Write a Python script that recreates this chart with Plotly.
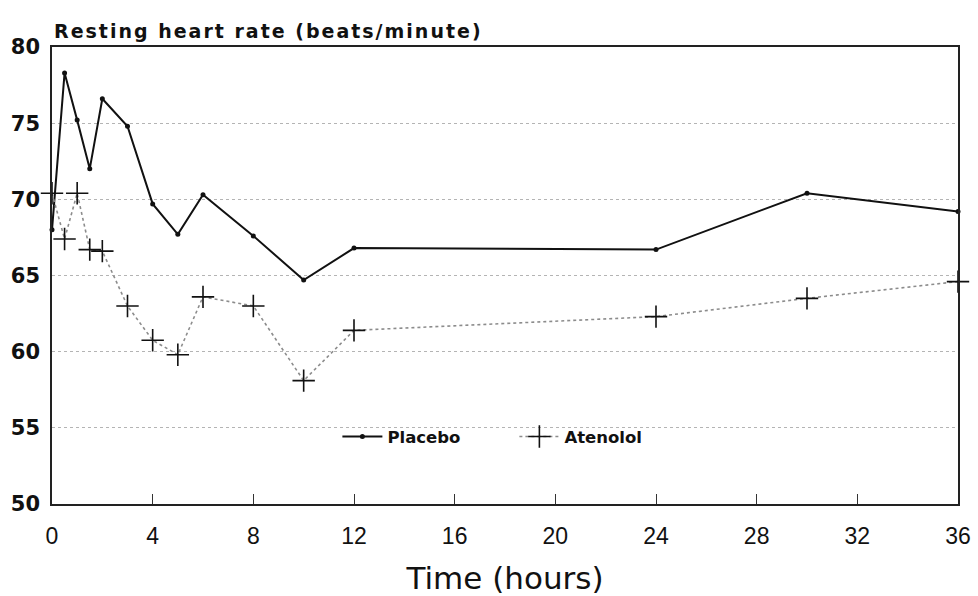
import plotly.graph_objects as go

# Measurement times (hours after dosing)
hours = [0, 0.5, 1, 1.5, 2, 3, 4, 5, 6, 8, 10, 12, 24, 30, 36]

# Mean resting heart rate (beats/minute)
placebo = [68.0, 78.3, 75.2, 72.0, 76.6, 74.8, 69.7, 67.7, 70.3, 67.6, 64.7, 66.8, 66.7, 70.4, 69.2]
atenolol = [70.4, 67.4, 70.4, 66.7, 66.6, 63.0, 60.75, 59.8, 63.6, 63.0, 58.1, 61.4, 62.3, 63.5, 64.6]

x_ticks = [0, 4, 8, 12, 16, 20, 24, 28, 32, 36]
y_ticks = [50, 55, 60, 65, 70, 75, 80]

font_wide = "DejaVu Sans, Verdana, sans-serif"
font_plain = "Liberation Sans, Arial, sans-serif"

fig = go.Figure()

fig.add_trace(go.Scatter(
    x=hours, y=placebo, name="Placebo", mode="lines+markers",
    line=dict(color="#111111", width=2),
    marker=dict(color="#111111", size=5, symbol="circle"),
    cliponaxis=False,
))

fig.add_trace(go.Scatter(
    x=hours, y=atenolol, name="Atenolol", mode="lines+markers",
    line=dict(color="#8c8c8c", width=1.6, dash="dot"),
    marker=dict(color="#111111", size=16, symbol="cross-thin",
                line=dict(color="#111111", width=1.6)),
    cliponaxis=False,
))

fig.update_layout(
    width=978, height=596,
    margin=dict(l=52, r=20, t=47, b=92),
    paper_bgcolor="white", plot_bgcolor="white",
    font=dict(family=font_plain, color="#111111"),
    showlegend=True,
    legend=dict(
        orientation="h", x=0.315, y=0.147, xanchor="left", yanchor="middle",
        bgcolor="rgba(0,0,0,0)",
        font=dict(size=16.5, family=font_wide, weight="bold", color="#111111"),
        itemwidth=40, entrywidth=122,
    ),
    xaxis=dict(
        range=[0, 36], tickvals=x_ticks, ticktext=[str(v) for v in x_ticks],
        ticks="inside", ticklen=10, tickwidth=1, tickcolor="#333333",
        showline=True, mirror=True, linecolor="#222222", linewidth=1.5,
        showgrid=False, zeroline=False, automargin=False,
        tickfont=dict(size=23, family=font_plain, color="#111111"),
        ticklabelstandoff=11,
        title=dict(text="Time (hours)",
                   font=dict(size=31, family=font_wide, color="#111111"),
                   standoff=20),
    ),
    yaxis=dict(
        range=[50, 80], tickvals=y_ticks, ticktext=[str(v) for v in y_ticks],
        ticks="", showline=True, mirror=True, linecolor="#222222", linewidth=1.5,
        showgrid=True, gridcolor="#b4b4b4", gridwidth=1, griddash="dot",
        zeroline=False, automargin=False,
        tickfont=dict(size=21, family=font_wide, weight="bold", color="#111111"),
        ticklabelstandoff=6,
    ),
)

fig.add_annotation(
    text="Resting heart rate (beats/minute)",
    xref="paper", yref="paper", x=0, y=1.0, yshift=3,
    xanchor="left", yanchor="bottom", align="left", showarrow=False,
    font=dict(size=19, family=font_wide, weight="bold", color="#111111"),
)

# Widen the tracking of the chart heading (left-anchored, so its start stays put)
spacing_js = """
var gd = document.getElementById('{plot_id}');
gd.querySelectorAll('.annotation-text').forEach(function (t) {
    t.style.letterSpacing = '2.0px';
});
"""

fig.write_html("out.html", post_script=spacing_js)
